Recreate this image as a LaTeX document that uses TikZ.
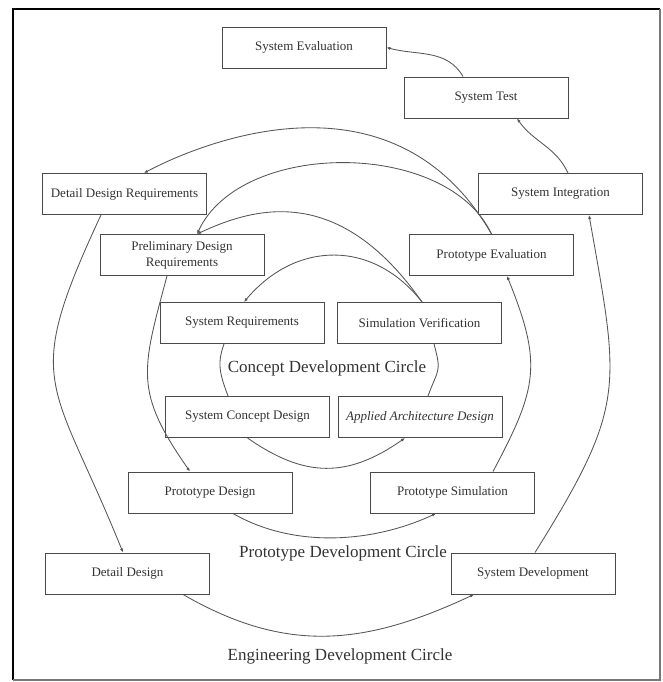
\documentclass[tikz,border=0pt]{standalone}
\usepackage{fontspec}
\setmainfont{Liberation Serif}
\usetikzlibrary{arrows.meta}
\definecolor{linegray}{HTML}{555555}
\definecolor{boxgray}{HTML}{4A4A4A}
\definecolor{textgray}{HTML}{333333}
\definecolor{framegray}{HTML}{777777}
\begin{document}
\begin{tikzpicture}[x=1pt,y=1pt,
  box/.style={draw=boxgray, line width=0.95pt, minimum width=164pt, minimum height=41pt, inner sep=0pt, text=textgray, font=\fontsize{13}{16}\selectfont, align=center, fill=white},
  circlabel/.style={text=textgray, font=\fontsize{17}{20}\selectfont, inner sep=0pt},
  conn/.style={draw=linegray, line width=0.85pt, -{Latex[length=4pt,width=3.2pt]}},
  plain/.style={draw=linegray, line width=0.85pt}]
\useasboundingbox (0,0) rectangle (663,682);
\fill[white] (0,0) rectangle (663,682);
\draw[black, line width=2.2pt] (13,2) -- (13,673) -- (660,673);
\draw[framegray, line width=1.5pt] (13,2) -- (660,2) -- (660,673);

\node[box] (se)  at (304,634.5) {System Evaluation};
\node[box] (st)  at (486,584.5) {System Test};
\node[box] (ddr) at (124.5,488) {Detail Design Requirements};
\node[box] (si)  at (560.5,488) {System Integration};
\node[box] (pdr) at (182,427) {Preliminary Design\\Requirements};
\node[box] (pe)  at (491.5,427) {Prototype Evaluation};
\node[box] (sr)  at (242,359) {System Requirements};
\node[box] (sv)  at (419.5,359) {Simulation Verification};
\node[box] (scd) at (247.5,265) {System Concept Design};
\node[box] (aad) at (420,265) {\itshape Applied Architecture Design};
\node[box] (pd)  at (210,189.5) {Prototype Design};
\node[box] (ps)  at (452.5,189.5) {Prototype Simulation};
\node[box] (dd)  at (127.5,108.5) {Detail Design};
\node[box] (sdv) at (533,108.5) {System Development};

\node[circlabel] (lc) at (327,314) {Concept Development Circle};
\node[circlabel] (lp) at (343,129) {Prototype Development Circle};
\node[circlabel] (le) at (340,26) {Engineering Development Circle};

\draw[conn] ([xshift=-23pt]st.north) to[out=120,in=-15] (se.east);
\draw[conn] ([xshift=7.5pt]si.north) to[out=115,in=-55] ([xshift=31pt]st.south);
\draw[conn] ([xshift=2pt]sdv.north) to[out=58,in=-80,distance=175pt] ([xshift=28.5pt]si.south);
\draw[conn] (pe.north) to[out=120,in=28,out distance=200pt,in distance=59pt] ([xshift=19.5pt]ddr.north);
\draw[conn] (pe.north) to[out=115,in=65,distance=104.5pt] ([xshift=15pt]pdr.north);
\draw[conn] ([xshift=2.5pt]sv.north) to[out=125,in=25,out distance=145pt,in distance=64pt] ([xshift=15pt]pdr.north);
\draw[conn] ([xshift=2.5pt]sv.north) to[out=128,in=50,distance=80pt] ([xshift=2pt]sr.north);
\draw[plain] ([xshift=-18pt]sr.south) to[out=250,in=110,distance=22pt] ([xshift=-19.5pt]scd.north);
\draw[plain] ([xshift=14.5pt]sv.south) to[out=-75,in=70,distance=30pt] ([xshift=8pt]aad.north);
\draw[conn] (scd.south) to[out=-35,in=-145,distance=70pt] ([xshift=-15pt]aad.south);
\draw[conn] ([xshift=-15pt]pdr.south) to[out=255,in=125,distance=98pt] ([xshift=-20pt]pd.north);
\draw[conn] ([xshift=40.5pt]ps.north) to[out=62,in=-68,distance=95pt] ([xshift=15.5pt]pe.south);
\draw[conn] ([xshift=23pt]pd.south) to[out=-30,in=-155,distance=70pt] ([xshift=-16.5pt]ps.south);
\draw[conn] ([xshift=-23.5pt]ddr.south) to[out=245,in=112,distance=190pt] ([xshift=-4.5pt]dd.north);
\draw[conn] ([xshift=55.5pt]dd.south) to[out=-30,in=-155,distance=120pt] ([xshift=-59pt]sdv.south);
\end{tikzpicture}
\end{document}
